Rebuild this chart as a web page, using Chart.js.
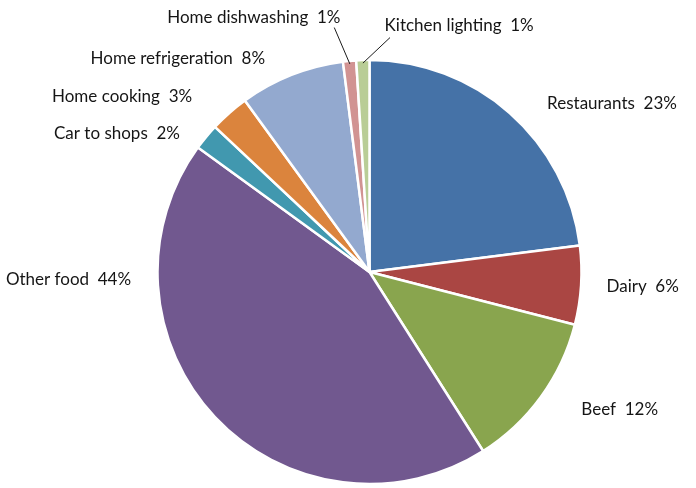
<!DOCTYPE html>
<html>
<head>
<meta charset="utf-8">
<script src="https://cdn.jsdelivr.net/npm/chart.js@4"></script>
<style>
  html, body { margin: 0; padding: 0; background: #fff; }
  canvas { display: block; }
</style>
</head>
<body>
<canvas id="myChart" width="696" height="488"></canvas>
<script>
// slice names and their share of the total, clockwise from 12 o'clock
var categories = ['Restaurants', 'Dairy', 'Beef', 'Other food', 'Car to shops',
    'Home cooking', 'Home refrigeration', 'Home dishwashing', 'Kitchen lighting'];
var shares = [23, 6, 12, 44, 2, 3, 8, 1, 1];
var colors = ['#4572a7', '#aa4643', '#89a54e', '#71588f', '#4198af',
    '#db843d', '#93a9cf', '#d19392', '#b9cd96'];

// where each label sits: angle in degrees clockwise from top, distance as a multiple of radius
var labelAngle = [46.5, 93.6, 122.9, 268.3, 306.2, 314.7, 333.9, 353.5, 3.5];
var labelDist = [1.155, 1.12, 1.19, 1.125, 1.108, 1.177, 1.12, 1.21, 1.165];
// small slices get a leader line, ending at [angle, distance]
var leaderEnd = [null, null, null, null, null, null, null, [351.8, 1.165], [5.0, 1.11]];

function polar(x, y, r, deg) {
    var a = (deg - 90) * Math.PI / 180;
    return { x: x + r * Math.cos(a), y: y + r * Math.sin(a) };
}

var outsideLabels = {
    id: 'outsideLabels',
    afterDraw: function(chart) {
        var ctx = chart.ctx;
        var meta = chart.getDatasetMeta(0);
        ctx.save();
        ctx.font = '17px Lato, "Noto Sans", sans-serif';
        ctx.fillStyle = '#151515';
        ctx.textBaseline = 'middle';
        meta.data.forEach(function(arc, i) {
            var r = arc.outerRadius;
            if (leaderEnd[i]) {
                var mid = ((arc.startAngle + arc.endAngle) / 2) * 180 / Math.PI + 90;
                var p0 = polar(arc.x, arc.y, r - 3, mid);
                var p1 = polar(arc.x, arc.y, r * leaderEnd[i][1], leaderEnd[i][0]);
                ctx.strokeStyle = '#1a1a1a';
                ctx.lineWidth = 1;
                ctx.beginPath();
                ctx.moveTo(p0.x, p0.y);
                ctx.lineTo(p1.x, p1.y);
                ctx.stroke();
            }
            var p = polar(arc.x, arc.y, r * labelDist[i], labelAngle[i]);
            ctx.textAlign = labelAngle[i] < 180 ? 'left' : 'right';
            ctx.fillText(categories[i] + '  ' + shares[i] + '%', p.x, p.y);
        });
        ctx.restore();
    }
};

var chart = new Chart('myChart', {
    type: 'pie',
    data: {
        labels: categories,
        datasets: [{
            data: shares,
            backgroundColor: colors,
            borderColor: '#ffffff',
            borderWidth: 2.5
        }]
    },
    options: {
        responsive: false,
        animation: false,
        radius: 212,
        layout: { padding: { left: 43, right: 0, top: 56, bottom: 0 } },
        plugins: {
            legend: { display: false },
            tooltip: { enabled: false }
        }
    },
    plugins: [outsideLabels]
});
</script>
</body>
</html>
